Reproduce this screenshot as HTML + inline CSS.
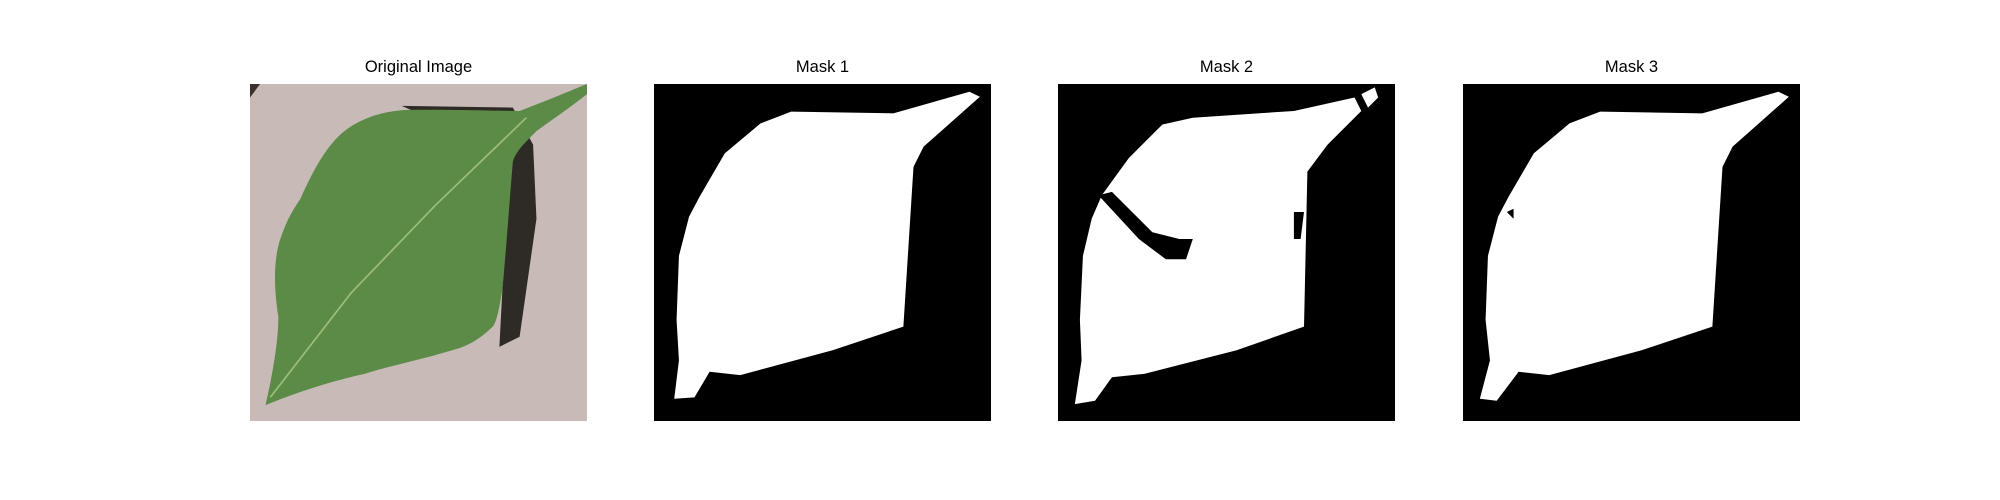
<!DOCTYPE html>
<html><head><meta charset="utf-8"><style>
body{margin:0;background:#fff;width:2000px;height:500px;position:relative;overflow:hidden;font-family:"Liberation Sans","DejaVu Sans",sans-serif}
.t{position:absolute;top:58px;width:337px;text-align:center;font-size:16.5px;color:#000}
svg{position:absolute;top:84px;width:337px;height:337px}
</style></head><body>
<div class="t" style="left:250px">Original Image</div>
<div class="t" style="left:654px">Mask 1</div>
<div class="t" style="left:1058px">Mask 2</div>
<div class="t" style="left:1463px">Mask 3</div>

<svg style="left:250px" viewBox="0 0 100 100" preserveAspectRatio="none">
<rect width="100" height="100" fill="#c8bab6"/>
<polygon points="0,0 3,0 0,4" fill="#3a302c"/>
<polygon points="45,6.5 78,7 84,18 85,40 80,75 74,78 76,40 76,20" fill="#2e2a26"/>
<path d="M4.6,95.3 C7,85 8.5,75 8.4,69 C7,60 7,52 9,46 C11,40 13,37 15,34 C19,25 23,18 28,14 C33,10 40,8 46,7.7 C60,7.5 72,8 80,8 C88,5 95,2 100,0 L100,3 C95,7 89,11 85,14 C81,18 79,20 78,23 C77,35 76,49 75,60 C74,67 73,71 72,72 C68,76 64,78 60,79 C50,82 40,84 34,86 C25,88 15,91 4.6,95.3 Z" fill="#5c8b47"/>
<polyline points="6,93 30,62 55,36 82,10" stroke="#9cbf78" stroke-width="0.5" fill="none"/>
</svg>

<svg style="left:654px" viewBox="0 0 100 100" preserveAspectRatio="none">
<rect width="100" height="100" fill="#000"/>
<polygon points="21,20.6 31.6,11.7 40.7,8.2 71,8.7 93.6,2.3 96.7,3.8 80,18.6 77,24.6 74,72 53,79 25.6,86.4 16.5,85.4 12,93 6,93.4 7.4,82 6.7,70 7.4,51 10.4,39.4 13.5,33.5" fill="#fff"/>
</svg>

<svg style="left:1058px" viewBox="0 0 100 100" preserveAspectRatio="none">
<rect width="100" height="100" fill="#000"/>
<polygon points="21,22 31,12 40,10 70,8 88,4 90,8 80,18 74,26 73,72 53,79 25.6,86 16,87 11,94 5,95 7,82 6.5,70 7.4,51 10,40 13,33" fill="#fff"/>
<polygon points="90,3 94,1 95,4 92,7" fill="#fff"/>
<polygon points="12,33 16,32 28,44 36,46 40,46 38,52 32,52 24,46" fill="#000"/>
<polygon points="70,38 73,38 72,46 70,46" fill="#000"/>
</svg>

<svg style="left:1463px" viewBox="0 0 100 100" preserveAspectRatio="none">
<rect width="100" height="100" fill="#000"/>
<polygon points="21,20.6 31.6,11.7 40.7,8.2 71,8.7 93.6,2.3 96.7,3.8 80,18.6 77,24.6 74,72 53,79 25.6,86.4 16.5,85.4 10,94 5,93.4 8,82 6.7,70 7.4,51 10.4,39.4 13.5,33.5" fill="#fff"/>
<polygon points="13,38 15,37 15,40" fill="#000"/>
</svg>
</body></html>
